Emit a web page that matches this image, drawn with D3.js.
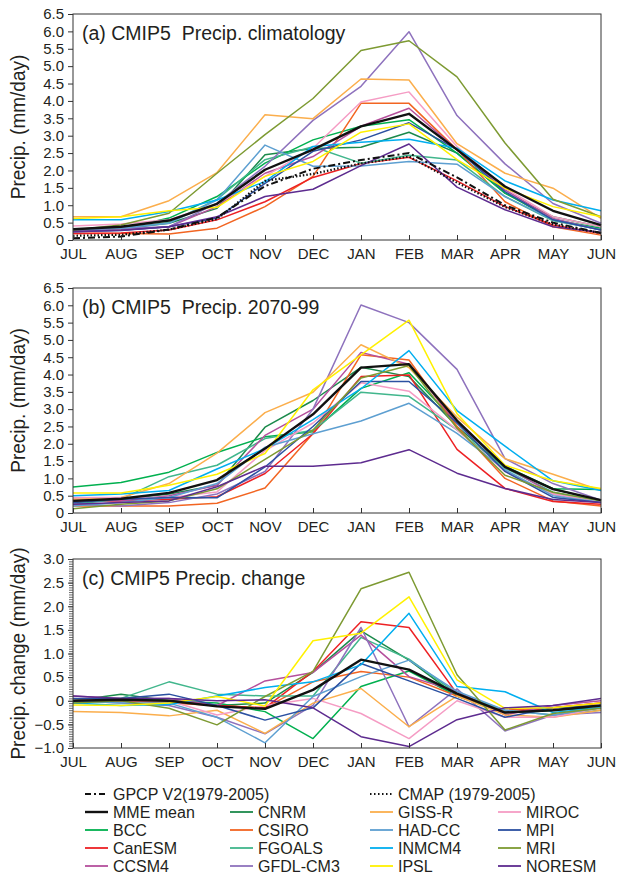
<!DOCTYPE html>
<html><head><meta charset="utf-8">
<script src="https://cdn.jsdelivr.net/npm/d3@7"></script>
<style>
html,body{margin:0;padding:0;background:#fff;}
svg{display:block;}
text{font-family:"Liberation Sans",Arial,Helvetica,sans-serif;fill:#231f20;}
.title{white-space:pre;}
</style></head>
<body>
<svg id="chart" width="628" height="877"></svg>
<script>
// ---------- categories ----------
const months = ["JUL","AUG","SEP","OCT","NOV","DEC","JAN","FEB","MAR","APR","MAY","JUN"];
const models = ["MME mean","CNRM","BCC","CSIRO","CanESM","FGOALS","CCSM4","GFDL-CM3","GISS-R","MIROC","HAD-CC","MPI","INMCM4","MRI","IPSL","NORESM"];
const modelColors = ["#000000","#1b8a4b","#00b04f","#f26522","#ed2124","#41b68c","#b5509c","#8e72bd","#fbae4c","#f59cc4","#5d9fd1","#2b50a1","#00aeef","#7d9a32","#fff100","#5d2b8f"];
const yTicksAB = [0,0.5,1.0,1.5,2.0,2.5,3.0,3.5,4.0,4.5,5.0,5.5,6.0,6.5];
const yTicksC = [-1.0,-0.5,0,0.5,1.0,1.5,2.0,2.5,3.0];

// ---------- (a) climatology ----------
const a_GPCP   = [0.05,0.10,0.30,0.65,1.55,2.05,2.30,2.50,1.80,1.00,0.50,0.20];
const a_CMAP   = [0.12,0.15,0.30,0.60,1.70,1.90,2.20,2.40,1.65,0.95,0.45,0.20];
const a_MME    = [0.31,0.38,0.56,1.04,2.02,2.60,3.27,3.63,2.60,1.54,0.84,0.43];
const a_CNRM   = [0.30,0.32,0.48,0.91,2.45,2.63,2.67,3.10,2.50,1.35,0.67,0.38];
const a_BCC    = [0.28,0.32,0.63,1.25,2.21,2.88,3.27,3.46,2.50,1.35,0.58,0.34];
const a_CSIRO  = [0.19,0.19,0.17,0.34,0.96,1.83,3.93,3.93,2.60,1.10,0.38,0.14];
const a_CanESM = [0.19,0.20,0.29,0.58,1.10,1.80,2.20,2.38,1.70,0.96,0.43,0.19];
const a_FGOALS = [0.30,0.33,0.50,1.17,2.31,2.68,2.21,2.44,2.30,1.25,0.55,0.30];
const a_CCSM4  = [0.29,0.29,0.38,0.96,1.92,2.40,3.27,3.79,2.60,1.44,0.62,0.29];
const a_GFDL   = [0.29,0.34,0.38,1.06,2.12,3.44,4.42,5.99,3.58,2.19,1.05,0.48];
const a_GISS   = [0.67,0.67,1.13,1.94,3.60,3.49,4.63,4.60,2.77,1.92,1.49,0.62];
const a_MIROC  = [0.40,0.46,0.58,1.04,1.83,2.64,3.97,4.26,2.69,1.49,0.67,0.38];
const a_HAD    = [0.30,0.34,0.48,1.15,2.73,2.12,2.13,2.26,2.18,1.25,0.58,0.29];
const a_MPI    = [0.24,0.27,0.38,0.63,1.63,2.55,2.88,3.37,2.60,1.39,0.58,0.29];
const a_INMCM4 = [0.58,0.58,0.82,1.15,1.68,2.69,2.81,2.90,2.64,1.70,1.15,0.84];
const a_MRI    = [0.29,0.43,0.77,1.92,3.03,4.07,5.45,5.73,4.69,2.79,1.17,0.67];
const a_IPSL   = [0.62,0.67,0.84,0.94,1.83,2.26,3.10,3.34,2.31,1.49,0.96,0.67];
const a_NORESM = [0.24,0.28,0.38,0.67,1.25,1.46,2.14,2.76,1.52,0.87,0.38,0.22];

// ---------- (b) 2070-99 ----------
const b_MME    = [0.35,0.41,0.58,0.95,1.86,2.85,4.20,4.30,2.67,1.33,0.69,0.37];
const b_CNRM   = [0.30,0.40,0.55,0.80,2.48,3.25,4.21,3.94,2.50,1.30,0.70,0.35];
const b_BCC    = [0.75,0.88,1.18,1.75,2.20,2.35,3.60,4.05,2.60,1.35,0.70,0.68];
const b_CSIRO  = [0.20,0.20,0.20,0.28,0.72,2.30,4.57,4.42,2.50,1.00,0.35,0.20];
const b_CanESM = [0.35,0.35,0.40,0.47,1.14,2.29,3.94,3.99,1.84,0.71,0.33,0.25];
const b_FGOALS = [0.25,0.40,1.05,1.38,2.15,2.39,3.49,3.37,2.40,1.30,0.60,0.35];
const b_CCSM4  = [0.40,0.35,0.50,0.80,2.24,3.00,4.64,4.30,2.60,1.35,0.55,0.30];
const b_GFDL   = [0.25,0.20,0.30,0.55,1.20,3.00,6.01,5.50,4.15,1.57,0.85,0.37];
const b_GISS   = [0.40,0.45,0.85,1.73,2.90,3.49,4.86,4.20,2.77,1.57,1.12,0.65];
const b_MIROC  = [0.45,0.45,0.45,0.61,1.80,2.60,3.76,3.52,2.40,1.20,0.55,0.30];
const b_HAD    = [0.20,0.30,0.45,0.85,1.90,2.29,2.66,3.17,2.30,1.25,0.50,0.30];
const b_MPI    = [0.30,0.40,0.45,0.44,1.33,2.50,3.80,3.80,2.60,1.20,0.45,0.30];
const b_INMCM4 = [0.50,0.55,0.65,1.27,1.86,2.70,3.59,4.69,2.96,1.93,0.93,0.65];
const b_MRI    = [0.12,0.25,0.35,0.70,1.55,2.40,3.90,4.26,2.45,1.09,0.60,0.35];
const b_IPSL   = [0.58,0.58,0.80,1.12,1.72,3.56,4.57,5.57,2.87,1.38,0.93,0.71];
const b_NORESM = [0.25,0.30,0.35,0.76,1.35,1.35,1.45,1.83,1.15,0.71,0.39,0.30];

// ---------- (c) change ----------
const c_MME    = [0.00,0.02,0.00,-0.12,-0.17,0.23,0.87,0.66,0.15,-0.25,-0.20,-0.10];
const c_CNRM   = [0.00,0.14,0.00,-0.10,-0.05,0.60,1.48,0.86,0.10,-0.25,-0.20,-0.15];
const c_BCC    = [0.00,0.05,0.00,-0.05,-0.23,-0.80,0.30,0.63,0.10,-0.25,-0.20,-0.10];
const c_CSIRO  = [0.00,0.00,-0.05,-0.10,-0.15,0.40,0.62,0.50,0.10,-0.20,-0.15,-0.05];
const c_CanESM = [0.00,0.00,0.00,-0.10,-0.15,0.62,1.67,1.55,0.15,-0.25,-0.15,-0.05];
const c_FGOALS = [-0.05,0.05,0.40,0.14,0.10,0.10,1.34,0.88,0.15,-0.20,-0.30,-0.20];
const c_CCSM4  = [0.10,0.05,0.05,-0.10,0.42,0.60,1.39,0.51,0.20,-0.30,-0.10,0.00];
const c_GFDL   = [0.00,-0.05,-0.10,-0.35,-0.70,-0.10,1.55,-0.55,0.25,-0.64,-0.30,-0.25];
const c_GISS   = [-0.23,-0.25,-0.32,-0.20,-0.69,-0.05,0.26,-0.55,0.10,-0.30,-0.35,-0.20];
const c_MIROC  = [0.05,0.00,0.00,-0.30,-0.10,0.05,-0.27,-0.80,0.00,-0.35,-0.35,-0.15];
const c_HAD    = [0.00,-0.05,-0.05,-0.35,-0.89,0.09,0.51,0.86,0.20,-0.20,-0.30,-0.15];
const c_MPI    = [0.05,0.05,0.14,-0.10,-0.41,-0.15,0.79,0.42,0.05,-0.35,-0.15,-0.10];
const c_INMCM4 = [-0.05,-0.10,-0.08,0.10,0.28,0.40,0.76,1.85,0.30,0.19,-0.25,-0.15];
const c_MRI    = [-0.05,0.00,-0.16,-0.51,0.09,0.62,2.37,2.72,0.55,-0.62,-0.27,-0.16];
const c_IPSL   = [-0.09,-0.10,-0.05,0.09,-0.11,1.27,1.43,2.20,0.44,-0.16,-0.15,-0.05];
const c_NORESM = [0.10,0.05,0.05,0.00,0.02,-0.15,-0.76,-0.97,-0.40,-0.15,-0.10,0.05];

const panelA = [a_MME,a_CNRM,a_BCC,a_CSIRO,a_CanESM,a_FGOALS,a_CCSM4,a_GFDL,a_GISS,a_MIROC,a_HAD,a_MPI,a_INMCM4,a_MRI,a_IPSL,a_NORESM];
const panelB = [b_MME,b_CNRM,b_BCC,b_CSIRO,b_CanESM,b_FGOALS,b_CCSM4,b_GFDL,b_GISS,b_MIROC,b_HAD,b_MPI,b_INMCM4,b_MRI,b_IPSL,b_NORESM];
const panelC = [c_MME,c_CNRM,c_BCC,c_CSIRO,c_CanESM,c_FGOALS,c_CCSM4,c_GFDL,c_GISS,c_MIROC,c_HAD,c_MPI,c_INMCM4,c_MRI,c_IPSL,c_NORESM];

const svg = d3.select("#chart");
const L = 73, R = 601;
const x = d3.scalePoint().domain(months).range([L, R]);

function panel(cfg){
  const y = d3.scaleLinear().domain(cfg.domain).range([cfg.bottom, cfg.top]);
  const g = svg.append("g");
  const line = d3.line().x((d,i)=>x(months[i])).y(d=>y(d));
  d3.range(1, models.length).forEach(k=>{
    g.append("path").datum(cfg.series[k]).attr("d", line)
      .attr("fill","none").attr("stroke", modelColors[k]).attr("stroke-width",1.5)
      .attr("stroke-linejoin","round");
  });
  if (cfg.obs){
    g.append("path").datum(cfg.obs[1]).attr("d", line).attr("fill","none")
      .attr("stroke","#111").attr("stroke-width",2.2).attr("stroke-dasharray","1.5,2");
    g.append("path").datum(cfg.obs[0]).attr("d", line).attr("fill","none")
      .attr("stroke","#111").attr("stroke-width",2).attr("stroke-dasharray","7,3,2,3");
  }
  g.append("path").datum(cfg.series[0]).attr("d", line)
    .attr("fill","none").attr("stroke","#111").attr("stroke-width",2.4).attr("stroke-linejoin","round");

  g.append("rect").attr("x",L).attr("y",cfg.top).attr("width",R-L).attr("height",cfg.bottom-cfg.top)
    .attr("fill","none").attr("stroke","#333").attr("stroke-width",1);

  const ya = d3.axisLeft(y).tickValues(cfg.ticks).tickSize(5).tickPadding(4)
    .tickFormat(d=> d===0 ? "0" : d3.format(".1f")(d));
  const yg = g.append("g").attr("transform",`translate(${L},0)`).call(ya);
  yg.select(".domain").remove();
  yg.selectAll("line").attr("stroke","#333");
  yg.selectAll("text").style("font-size","15px").attr("fill","#231f20");
  if (cfg.minor){
    const ma = d3.axisLeft(y).tickValues(d3.range(cfg.domain[0], cfg.domain[1]+1e-9, 0.05)).tickSize(4).tickFormat("");
    const mg = g.append("g").attr("transform",`translate(${L},0)`).call(ma);
    mg.select(".domain").remove();
    mg.selectAll("line").attr("stroke","#444").attr("stroke-width",0.8);
  }
  const xa = d3.axisBottom(x).tickSize(-5).tickPadding(8);
  const xg = g.append("g").attr("transform",`translate(0,${cfg.bottom})`).call(xa);
  xg.select(".domain").remove();
  xg.selectAll("line").attr("stroke","#333");
  xg.selectAll("text").style("font-size","15px").attr("fill","#231f20");

  g.append("text").attr("class","title").attr("x",L+9).attr("y",cfg.top+26)
    .style("font-size","19.5px").text(cfg.title);
  g.append("text")
    .attr("transform",`translate(25,${(cfg.top+cfg.bottom)/2}) rotate(-90) scale(0.95,1)`)
    .attr("text-anchor","middle").style("font-size","20px").attr("fill","#444").text(cfg.ytitle);
}

panel({domain:[0,6.5], top:14, bottom:240, ticks:yTicksAB, series:panelA, obs:[a_GPCP,a_CMAP],
  title:"(a) CMIP5  Precip. climatology", ytitle:"Precip. (mm/day)"});
panel({domain:[0,6.5], top:288, bottom:513, ticks:yTicksAB, series:panelB,
  title:"(b) CMIP5  Precip. 2070-99", ytitle:"Precip. (mm/day)"});
panel({domain:[-1,3], top:559, bottom:748, ticks:yTicksC, series:panelC, minor:true,
  title:"(c) CMIP5 Precip. change", ytitle:"Precip. change (mm/day)"});

// ---------- legend ----------
const leg = svg.append("g");
const rowY = [794, 812, 830, 848, 866];
const textX = [113, 258, 398, 526];
const fs = "16px";
leg.append("line").attr("x1",textX[0]-28).attr("x2",textX[0]-5).attr("y1",rowY[0]).attr("y2",rowY[0])
  .attr("stroke","#111").attr("stroke-width",2).attr("stroke-dasharray","6,3,2,3");
leg.append("text").attr("x",textX[0]).attr("y",rowY[0]+5.5).style("font-size",fs).text("GPCP V2(1979-2005)");
leg.append("line").attr("x1",textX[2]-28).attr("x2",textX[2]-5).attr("y1",rowY[0]).attr("y2",rowY[0])
  .attr("stroke","#111").attr("stroke-width",2).attr("stroke-dasharray","1.5,2.5");
leg.append("text").attr("x",textX[2]).attr("y",rowY[0]+5.5).style("font-size",fs).text("CMAP (1979-2005)");
const legendOrder = ["MME mean","BCC","CanESM","CCSM4","CNRM","CSIRO","FGOALS","GFDL-CM3","GISS-R","HAD-CC","INMCM4","IPSL","MIROC","MPI","MRI","NORESM"];
legendOrder.forEach((name,i)=>{
  const col = Math.floor(i/4), row = i%4 + 1;
  const k = models.indexOf(name);
  leg.append("line").attr("x1",textX[col]-28).attr("x2",textX[col]-5).attr("y1",rowY[row]).attr("y2",rowY[row])
    .attr("stroke", k===0 ? "#111" : modelColors[k]).attr("stroke-width", k===0?2.4:1.8);
  leg.append("text").attr("x",textX[col]).attr("y",rowY[row]+5.5).style("font-size",fs).text(name);
});
</script>
</body></html>
